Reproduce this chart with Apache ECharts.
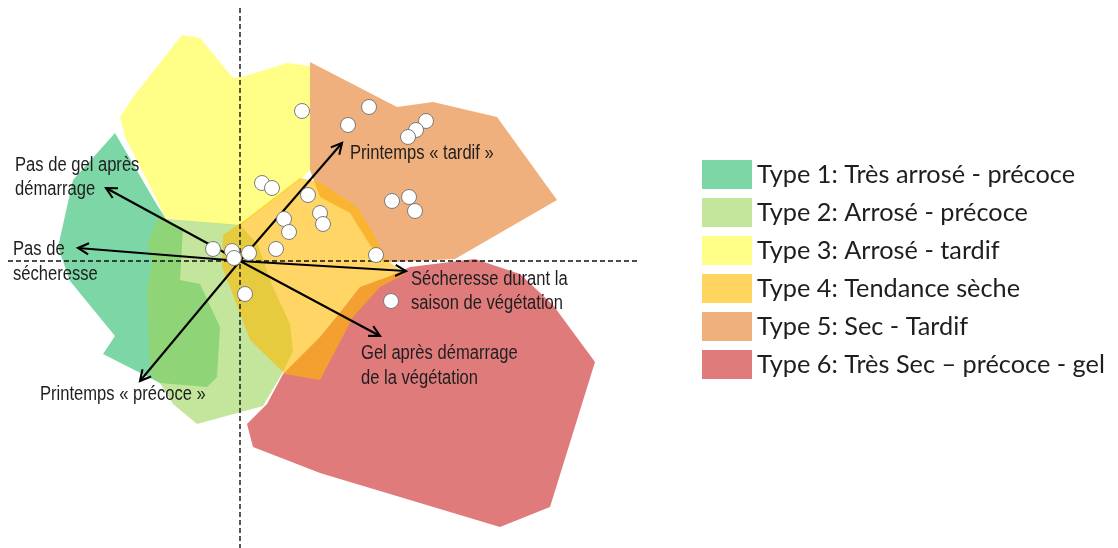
<!DOCTYPE html>
<html>
<head>
<meta charset="utf-8">
<script src="https://cdn.jsdelivr.net/npm/echarts@6/dist/echarts.min.js"></script>
<style>
html,body{margin:0;padding:0;background:#fff;}
#chart{width:1118px;height:548px;}
</style>
</head>
<body>
<div id="chart"></div>
<script>
// ---------- DATA (PCA score space) ----------
const typeNames = [
  'Type 1: Très arrosé - précoce',
  'Type 2: Arrosé - précoce',
  'Type 3: Arrosé - tardif',
  'Type 4: Tendance sèche',
  'Type 5: Sec - Tardif',
  'Type 6: Très Sec – précoce - gel'
];

const type1Hull = [[-1.25,1.28],[-0.83,0.56],[-0.72,0.39],[-0.57,0.33],[-0.60,-0.19],[-0.40,-0.23],[-0.20,-0.66],[-0.23,-1.16],[-0.33,-1.26],[-0.80,-1.22],[-1.37,-0.93],[-1.25,-0.75],[-1.70,-0.20],[-1.82,0.14],[-1.67,0.81]];
const type2Hull = [[-0.82,0.43],[0.00,0.36],[0.18,0.16],[0.32,-0.24],[0.50,-0.63],[0.53,-0.90],[0.43,-1.11],[0.23,-1.45],[-0.43,-1.63],[-0.67,-1.43],[-0.80,-1.22],[-0.90,-1.14],[-0.93,-0.29],[-0.88,-0.01],[-0.92,0.18]];
const type3Hull = [[-0.58,2.26],[-0.40,2.23],[-0.07,1.83],[0.02,1.84],[0.47,1.98],[0.70,1.95],[0.70,0.91],[0.60,0.81],[0.00,0.35],[-0.75,0.43],[-0.83,0.61],[-1.15,1.24],[-1.20,1.44],[-1.07,1.64]];
const type4Hull = [[0.60,0.83],[0.80,0.79],[1.17,0.54],[1.33,0.28],[1.47,0.01],[1.65,-0.13],[1.40,-0.26],[1.13,-0.56],[0.80,-1.19],[0.45,-1.13],[0.10,-0.79],[-0.10,-0.26],[-0.18,-0.06],[-0.17,0.26],[0.05,0.41]];
const type5Hull = [[0.70,1.99],[1.57,1.54],[1.93,1.59],[2.57,1.44],[3.17,0.61],[2.15,0.02],[1.53,-0.01],[1.43,-0.01],[1.30,0.16],[1.10,0.48],[0.80,0.64],[0.70,0.91]];
const type6Hull = [[2.35,0.02],[2.80,-0.13],[3.13,-0.44],[3.55,-1.01],[3.10,-2.46],[2.60,-2.66],[0.80,-2.12],[0.13,-1.86],[0.07,-1.63],[0.27,-1.43],[0.43,-1.13],[0.80,-0.76],[1.02,-0.49],[1.20,-0.26],[1.50,-0.15],[1.70,-0.06]];

const stations = [[0.62,1.50],[1.29,1.54],[1.08,1.36],[1.86,1.40],[1.76,1.31],[1.68,1.24],[0.22,0.78],[0.32,0.73],[0.68,0.66],[1.52,0.60],[1.69,0.64],[1.75,0.50],[0.80,0.48],[0.83,0.37],[0.44,0.42],[0.49,0.29],[0.36,0.12],[1.36,0.06],[-0.27,0.12],[-0.08,0.10],[0.09,0.08],[-0.06,0.03],[0.05,-0.33],[1.51,-0.40]];

const variableNames = ['Pas de gel après\ndémarrage','Pas de\nsécheresse','Printemps « tardif »','Sécheresse durant la\nsaison de végétation','Gel après démarrage\nde la végétation','Printemps « précoce »'];
const variableLoadings = [[-1.34,0.73],[-1.62,0.13],[1.02,1.18],[1.66,-0.10],[1.40,-0.75],[-1.00,-1.20]];
const variableLabelAt = [[-2.25,0.835],[-2.27,-0.01],[1.10,1.07],[1.71,-0.305],[1.21,-1.05],[-2.00,-1.34]];

const axisRefLines = [[[0,2.53],[0,-2.87]],[[-2.32,0],[3.97,0]]];

// ---------- STYLE ----------
const legendColors = ['#7DD6A6','#C3E59C','#FFFF88','#FFD55F','#F0B07E','#E07B7B'];
const hullFill = [
  {c:'#7DD6A6', o:1},
  {c:'#9BD45A', o:0.6},
  {c:'#FFFF38', o:0.6},
  {c:'#FFB900', o:0.6},
  {c:'#F0B07E', o:1},
  {c:'#E07B7B', o:1}
];
const hulls = [type1Hull,type2Hull,type3Hull,type4Hull,type5Hull,type6Hull];
const drawOrder = [0,2,1,4,5,3];

const chart = echarts.init(document.getElementById('chart'), null, {renderer:'canvas'});

function hullSeries(k){
  const poly = hulls[k];
  return {
    type:'custom', name:typeNames[k], silent:true,
    itemStyle:{color:legendColors[k]},
    data: poly,
    encode:{x:0,y:1},
    renderItem: function(params, api){
      if (params.dataIndex !== 0) return null;
      const pts = poly.map(p => api.coord(p));
      return {type:'polygon', shape:{points:pts}, style:{fill:hullFill[k].c, opacity:hullFill[k].o}};
    },
    z: 1
  };
}

const series = drawOrder.map(hullSeries);

series.push({
  type:'custom', silent:true, z:3,
  data: axisRefLines.map((l,i)=>[i]),
  renderItem: function(params, api){
    const l = axisRefLines[params.dataIndex];
    const a = api.coord(l[0]), b = api.coord(l[1]);
    return {type:'line', shape:{x1:a[0],y1:a[1],x2:b[0],y2:b[1]}, style:{stroke:'#111', lineWidth:1.4, lineDash:[5,3]}};
  }
});

series.push({
  type:'custom', silent:true, z:4,
  data: variableLoadings,
  encode:{x:0,y:1},
  renderItem: function(params, api){
    const i = params.dataIndex;
    const o = api.coord([0,0]);
    const t = api.coord([api.value(0), api.value(1)]);
    const ang = Math.atan2(t[1]-o[1], t[0]-o[0]);
    const L = 12, a = Math.PI/6.5;
    const w1 = [t[0]-L*Math.cos(ang-a), t[1]-L*Math.sin(ang-a)];
    const w2 = [t[0]-L*Math.cos(ang+a), t[1]-L*Math.sin(ang+a)];
    const la = api.coord(variableLabelAt[i]);
    return {type:'group', children:[
      {type:'line', shape:{x1:o[0],y1:o[1],x2:t[0],y2:t[1]}, style:{stroke:'#000', lineWidth:2.1}},
      {type:'polyline', shape:{points:[w1,t,w2]}, style:{stroke:'#000', lineWidth:2.1, fill:null}},
      {type:'text', x:la[0], y:la[1], scaleX:0.85, scaleY:1,
        style:{text:variableNames[i], fill:'#1e1e1e', fontFamily:'"Liberation Sans", Arial, sans-serif', fontSize:19.5, align:'left', verticalAlign:'middle', lineHeight:24.5}}
    ]};
  }
});

series.push({
  type:'scatter', silent:true, z:5,
  data: stations,
  symbol:'circle', symbolSize:15,
  itemStyle:{color:'#ffffff', borderColor:'#7a7a7a', borderWidth:1, opacity:1}
});

chart.setOption({
  animation:false,
  backgroundColor:'#ffffff',
  grid:{left:0, top:0, width:640, height:548},
  xAxis:{type:'value', min:-2.4, max:4.0, show:false},
  yAxis:{type:'value', min:-2.87, max:2.61, show:false},
  legend:{
    orient:'vertical', left:702, top:160, padding:0,
    itemWidth:50, itemHeight:29, itemGap:9,
    icon:'rect', selectedMode:false,
    textStyle:{fontFamily:'Lato, "Open Sans", sans-serif', fontSize:25.3, color:'#1e1e1e', lineHeight:29},
    data: typeNames.map((n,i)=>({name:n, itemStyle:{color:legendColors[i], opacity:1, borderWidth:0}}))
  },
  series: series
});
</script>
</body>
</html>
